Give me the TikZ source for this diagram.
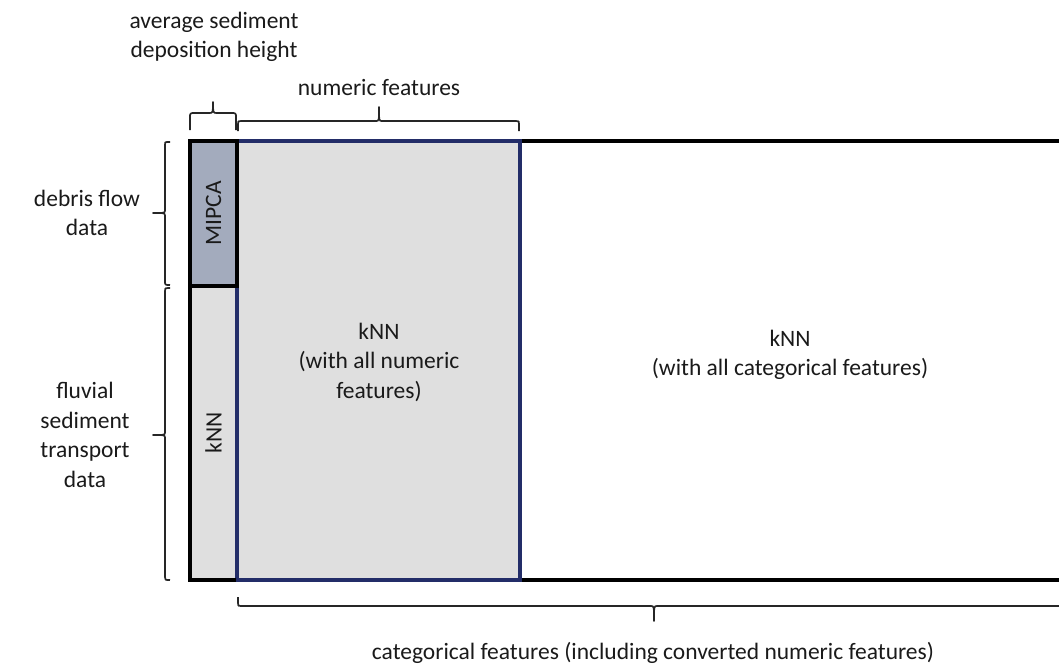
\documentclass[tikz,border=0pt]{standalone}
\usepackage{fontspec}
\setmainfont{Carlito}
\definecolor{mipca}{HTML}{A3ABBD}
\definecolor{lgrey}{HTML}{DFDFDF}
\definecolor{navy}{HTML}{232D68}
\definecolor{txt}{HTML}{1A1A1A}
\begin{document}
\begin{tikzpicture}[x=1pt,y=-1pt,
  lbl/.style={font=\fontsize{23.5}{29.5}\selectfont, text=txt, align=center, inner sep=0pt},
  cell/.style={anchor=north west, inner sep=0pt, outer sep=0pt},
  brc/.style={line width=1.7pt, black!85, line join=round}]
\clip (0,0) rectangle (1059,665);
% big outer box (extends beyond right edge)
\node[cell, draw=black, line width=3.2pt, minimum width=900pt, minimum height=439pt] (outer) at (190,141) {};
% left column (lower part)
\node[cell, draw=black, line width=3.2pt, fill=lgrey, minimum width=47pt, minimum height=294pt] (knnl) at (190,286) {};
% numeric box
\node[cell, draw=navy, line width=3.2pt, fill=lgrey, minimum width=283pt, minimum height=439pt] (num) at (237,141) {};
% left column (upper part)
\node[cell, draw=black, line width=3.2pt, fill=mipca, minimum width=47pt, minimum height=145pt] (mipca) at (190,141) {};
\draw[black, line width=3.2pt] (190,141) -- (190,580) -- (236,580);
% texts in boxes
\node[lbl, rotate=90] (tmipca) at (mipca.center) {MIPCA};
\node[lbl, rotate=90] (tknnl) at (knnl.center) {kNN};
\node[lbl] (tnum) at (379,362) {kNN\\(with all numeric\\features)};
\node[lbl] (tcat) at (790,355) {kNN\\(with all categorical features)};
% top labels
\node[lbl] (avg) at (214,37) {average sediment\\deposition height};
\node[lbl] (numf) at (379,87) {numeric features};
\node[lbl] (deb) at (87,213) {debris flow\\data};
\node[lbl] (flu) at (85,435) {fluvial\\sediment\\transport\\data};
\node[lbl] (catf) at (653,653) {categorical features (including converted numeric features)};
% coordinates for braces
\coordinate (b1l) at (190,130);
\coordinate (b1r) at (236,130);
\coordinate (b1t) at (213,102);
\coordinate (b2l) at (238,131);
\coordinate (b2r) at (519,131);
\coordinate (b2t) at (379,107);
% top-left brace
\draw[brc] (b1l) -- (190,118) .. controls (190,113) .. (195,113) -- (209,113) .. controls (213,113) .. (b1t)
  .. controls (213,113) .. (217,113) -- (231,113) .. controls (236,113) .. (236,118) -- (b1r);
% numeric features brace
\draw[brc] (b2l) -- (238,124) .. controls (238,121) .. (241,121) -- (376,121) .. controls (379,121) .. (b2t)
  .. controls (379,121) .. (382,121) -- (516,121) .. controls (519,121) .. (519,124) -- (b2r);
% left braces
\draw[brc] (170,142) -- (167,142) .. controls (165,142) .. (165,145) -- (165,210) .. controls (165,213) .. (153,213)
  .. controls (165,213) .. (165,216) -- (165,281) .. controls (165,285) .. (170,285);
\draw[brc] (170,288) -- (168,288) .. controls (165,288) .. (165,291) -- (165,432) .. controls (165,435) .. (153,435)
  .. controls (165,435) .. (165,438) -- (165,577) .. controls (165,580) .. (170,580);
% bottom brace
\coordinate (b3l) at (238,597);
\coordinate (b3t) at (654,621);
\draw[brc] (b3l) -- (238,603) .. controls (238,606) .. (241,606) -- (651,606) .. controls (654,606) .. (b3t)
  .. controls (654,606) .. (657,606) -- (1070,606);
\end{tikzpicture}
\end{document}
